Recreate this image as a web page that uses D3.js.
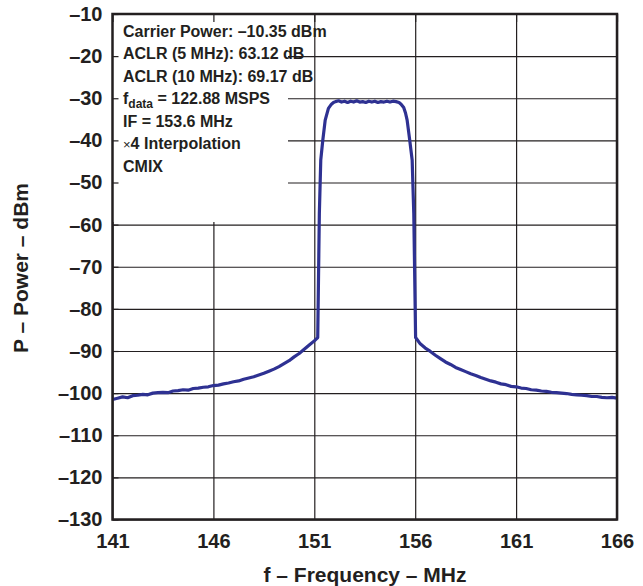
<!DOCTYPE html>
<html>
<head>
<meta charset="utf-8">
<script src="https://cdn.jsdelivr.net/npm/d3@7"></script>
<style>
  body { margin: 0; background: #fff; }
  text { font-family: "Liberation Sans", Arial, sans-serif; font-weight: bold; fill: #231f20; }
</style>
</head>
<body>
<svg id="chart" width="643" height="586"></svg>
<script>
// lower skirt, left of the carrier (MHz, dBm)
const leftSkirtF = [141.0, 141.25, 141.5, 141.75, 142.0, 142.25, 142.5, 142.75, 143.0, 143.25,
  143.5, 143.75, 144.0, 144.25, 144.5, 144.75, 145.0, 145.25, 145.5, 145.75,
  146.0, 146.25, 146.5, 146.75, 147.0, 147.25, 147.5, 147.75, 148.0, 148.25,
  148.5, 148.75, 149.0, 149.25, 149.5, 149.75, 150.0, 150.25, 150.5, 150.75, 151.0, 151.17];
const leftSkirtP = [-101.5, -101.2, -100.9, -101.1, -100.6, -100.5, -100.3, -100.4, -100.0, -99.9,
  -99.8, -99.9, -99.5, -99.4, -99.2, -99.3, -98.9, -98.8, -98.6, -98.5,
  -98.2, -98.1, -97.8, -97.6, -97.3, -97.1, -96.7, -96.4, -96.1, -95.7,
  -95.3, -94.8, -94.3, -93.7, -93.0, -92.3, -91.4, -90.6, -89.6, -88.6, -87.6, -86.8];

// channel itself
const passbandF = [151.25, 151.32, 151.42, 151.54, 151.7, 151.85, 151.95, 152.05,
  152.2, 152.35, 152.5, 152.65, 152.8, 152.95, 153.1, 153.25, 153.4, 153.55, 153.7,
  153.85, 154.0, 154.15, 154.3, 154.45, 154.6, 154.75, 154.9, 155.05, 155.2,
  155.3, 155.43, 155.52, 155.6, 155.73, 155.85, 155.93];
const passbandP = [-57.4, -44.7, -40.0, -35.2, -32.4, -31.4, -31.0, -30.8,
  -30.6, -30.9, -30.7, -31.0, -30.7, -30.9, -30.6, -30.9, -30.8, -31.0, -30.7,
  -30.9, -30.7, -31.0, -30.8, -30.9, -30.7, -30.9, -30.7, -30.8, -31.0,
  -31.4, -32.2, -33.5, -35.2, -40.0, -44.7, -57.4];

// upper skirt, right of the carrier
const rightSkirtF = [156.02, 156.25, 156.5, 156.75, 157.0, 157.25, 157.5, 157.75, 158.0, 158.25,
  158.5, 158.75, 159.0, 159.25, 159.5, 159.75, 160.0, 160.25, 160.5, 160.75,
  161.0, 161.25, 161.5, 161.75, 162.0, 162.25, 162.5, 162.75, 163.0, 163.25,
  163.5, 163.75, 164.0, 164.25, 164.5, 164.75, 165.0, 165.25, 165.5, 165.75, 166.0];
const rightSkirtP = [-86.8, -88.3, -89.3, -90.1, -91.0, -91.8, -92.6, -93.2, -93.9, -94.4,
  -94.9, -95.4, -95.8, -96.3, -96.7, -97.1, -97.4, -97.8, -98.0, -98.4,
  -98.5, -98.8, -98.9, -99.2, -99.3, -99.5, -99.6, -99.8, -99.9, -100.0,
  -100.1, -100.3, -100.4, -100.5, -100.6, -100.8, -100.8, -101.0, -101.1, -101.0, -101.2];

const xTicks = [141, 146, 151, 156, 161, 166];
const yTicks = [-10, -20, -30, -40, -50, -60, -70, -80, -90, -100, -110, -120, -130];

const svg = d3.select('#chart');
const margin = { top: 14, right: 26, bottom: 66.5, left: 112.5 };
const width = 643 - margin.left - margin.right;
const height = 586 - margin.top - margin.bottom;
const ink = '#231f20';
const dash = d => (d < 0 ? '\u2013' + Math.abs(d) : String(d));

const x = d3.scaleLinear().domain([141, 166]).range([margin.left, margin.left + width]);
const y = d3.scaleLinear().domain([-130, -10]).range([margin.top + height, margin.top]);

const pts = [];
leftSkirtF.forEach((f, i) => pts.push([f, leftSkirtP[i]]));
passbandF.forEach((f, i) => pts.push([f, passbandP[i]]));
rightSkirtF.forEach((f, i) => pts.push([f, rightSkirtP[i]]));

// grid
svg.append('g')
  .attr('transform', `translate(0,${margin.top + height})`)
  .call(d3.axisBottom(x).tickValues(xTicks).tickSize(-height).tickFormat(''))
  .call(g => g.select('.domain').remove())
  .call(g => g.selectAll('line').attr('stroke', ink).attr('stroke-width', 1.2));
svg.append('g')
  .attr('transform', `translate(${margin.left},0)`)
  .call(d3.axisLeft(y).tickValues(yTicks).tickSize(-width).tickFormat(''))
  .call(g => g.select('.domain').remove())
  .call(g => g.selectAll('line').attr('stroke', ink).attr('stroke-width', 1.2));

// white panel behind the notes
svg.append('rect')
  .attr('x', margin.left).attr('y', margin.top)
  .attr('width', 288 - margin.left).attr('height', 222 - margin.top)
  .attr('fill', '#fff');

// short inner ticks on top of the panel
svg.append('g')
  .attr('transform', `translate(${margin.left},0)`)
  .call(d3.axisLeft(y).tickValues(yTicks).tickSize(-6).tickFormat(''))
  .call(g => g.select('.domain').remove())
  .call(g => g.selectAll('line').attr('stroke', ink).attr('stroke-width', 1.2));
svg.append('g')
  .attr('transform', `translate(0,${margin.top})`)
  .call(d3.axisTop(x).tickValues(xTicks).tickSize(-8).tickFormat(''))
  .call(g => g.select('.domain').remove())
  .call(g => g.selectAll('line').attr('stroke', ink).attr('stroke-width', 1.2));

// spectrum
svg.append('path')
  .datum(pts)
  .attr('fill', 'none')
  .attr('stroke', '#2e3192')
  .attr('stroke-width', 3.2)
  .attr('stroke-linejoin', 'round')
  .attr('d', d3.line().x(d => x(d[0])).y(d => y(d[1])));

// frame
svg.append('rect')
  .attr('x', margin.left).attr('y', margin.top)
  .attr('width', width).attr('height', height)
  .attr('fill', 'none').attr('stroke', ink).attr('stroke-width', 2.5);

// tick labels
svg.append('g')
  .attr('transform', `translate(${margin.left},0)`)
  .call(d3.axisLeft(y).tickValues(yTicks).tickSize(0).tickPadding(10).tickFormat(dash))
  .call(g => g.select('.domain').remove())
  .call(g => g.selectAll('text').attr('font-size', 20).attr('font-family', null).attr('fill', ink));
svg.append('g')
  .attr('transform', `translate(0,${margin.top + height})`)
  .call(d3.axisBottom(x).tickValues(xTicks).tickSize(0).tickPadding(14).tickFormat(dash))
  .call(g => g.select('.domain').remove())
  .call(g => g.selectAll('text').attr('font-size', 20).attr('font-family', null).attr('fill', ink));

// axis titles
svg.append('text')
  .attr('x', 365).attr('y', 581.5)
  .attr('text-anchor', 'middle').attr('font-size', 21)
  .text('f \u2013 Frequency \u2013 MHz');
svg.append('text')
  .attr('transform', 'translate(28,268) rotate(-90)')
  .attr('text-anchor', 'middle').attr('font-size', 21)
  .text('P \u2013 Power \u2013 dBm');

// notes
const notes = svg.append('g').attr('font-size', 16);
const noteX = 123;
const noteY = [36.5, 59, 81.5, 104, 126.5, 149, 171.5];
notes.append('text').attr('x', noteX).attr('y', noteY[0]).text('Carrier Power: \u201310.35 dBm');
notes.append('text').attr('x', noteX).attr('y', noteY[1]).text('ACLR (5 MHz): 63.12 dB');
notes.append('text').attr('x', noteX).attr('y', noteY[2]).text('ACLR (10 MHz): 69.17 dB');
const fd = notes.append('text').attr('x', noteX).attr('y', noteY[3]);
fd.append('tspan').text('f');
fd.append('tspan').attr('font-size', 12).attr('dy', 4).text('data');
fd.append('tspan').attr('dy', -4).text(' = 122.88 MSPS');
notes.append('text').attr('x', noteX).attr('y', noteY[4]).text('IF = 153.6 MHz');
const ip = notes.append('text').attr('x', noteX).attr('y', noteY[5]);
ip.append('tspan').attr('font-size', 13).attr('font-weight', 'normal').text('\u00d7');
ip.append('tspan').text('4 Interpolation');
notes.append('text').attr('x', noteX).attr('y', noteY[6]).text('CMIX');
</script>
</body>
</html>
